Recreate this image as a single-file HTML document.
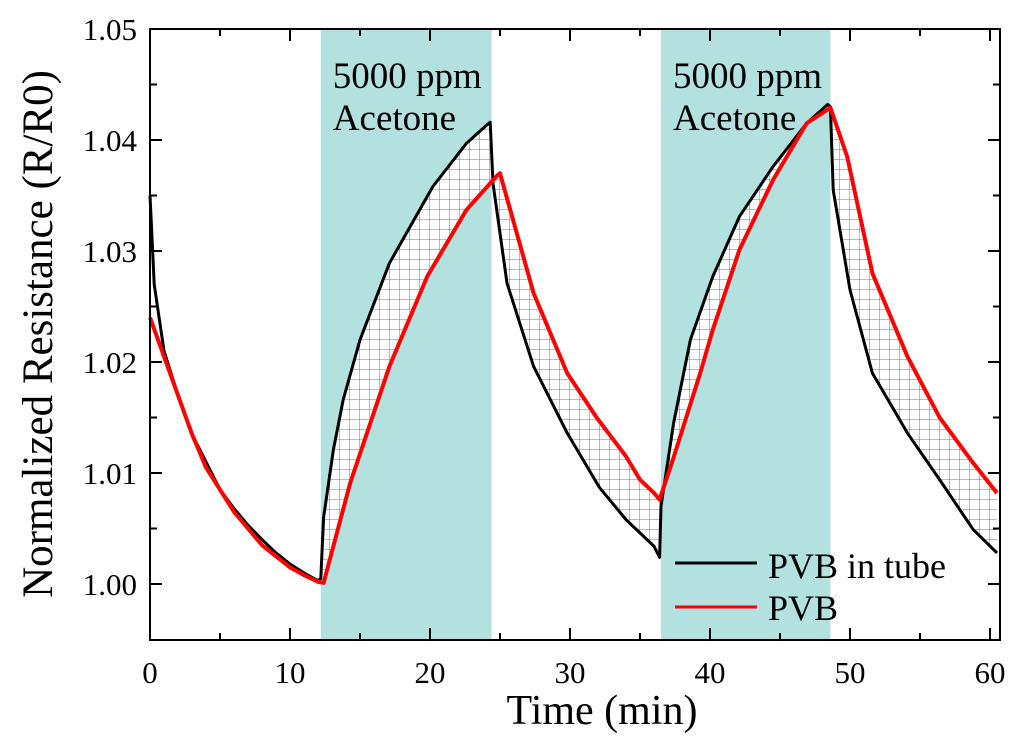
<!DOCTYPE html>
<html><head><meta charset="utf-8"><style>
body{margin:0;background:#fff}
svg text{font-family:"Liberation Serif",serif;fill:#000}
</style></head><body>
<svg id="c" width="1024" height="749" xmlns="http://www.w3.org/2000/svg">
<defs><pattern id="grid" width="10" height="10" patternUnits="userSpaceOnUse"><rect width="10" height="10" fill="#fff"/><path d="M10 0V10M0 10H10" stroke="#777" stroke-width="1" fill="none"/></pattern></defs>
<g id="bands"></g><g id="hatch"></g><g id="lines"></g><g id="axes"></g>
</svg>
<script>
const NS="http://www.w3.org/2000/svg";
const bandStarts=[12.2,36.5];
const bandEnds=[24.4,48.6];
const bandLabel1=["5000 ppm","5000 ppm"];
const bandLabel2=["Acetone","Acetone"];
const tubeT=[0,0.3,1,2,3,4,5,6,7,8,9,10,11,12,12.2,12.4,13.1,13.8,15,17.1,20.2,22.6,24.1,24.3,24.5,25.5,27.4,29.8,32.1,34,36,36.4,36.5,37.4,38.6,40.2,42.1,44.5,46.9,48.4,48.6,48.8,50,51.6,54.1,56.4,58.8,60.5];
const tubeR=[1.035,1.027,1.021,1.017,1.0135,1.011,1.0085,1.0068,1.0053,1.004,1.0028,1.0018,1.001,1.0003,1.0005,1.006,1.0121,1.0166,1.022,1.0289,1.0358,1.0397,1.0414,1.0416,1.0361,1.0271,1.0196,1.0136,1.0087,1.0058,1.0034,1.0024,1.007,1.0145,1.022,1.0277,1.0331,1.0376,1.0415,1.0432,1.043,1.0355,1.0265,1.019,1.0136,1.0094,1.0049,1.0028];
const pvbT=[0,1,2,3,4,5,6,7,8,9,10,11,12,12.4,14.3,17.1,19.8,22.6,24.8,25,26.2,27.4,29.8,31.9,34,35,36,36.4,37.4,39.3,40.2,42.1,44.5,46.9,48.6,49.8,51.6,54.1,56.4,58.8,60.5];
const pvbR=[1.024,1.0205,1.017,1.0135,1.0105,1.0085,1.0065,1.005,1.0035,1.0025,1.0015,1.0008,1.0002,1.0001,1.0091,1.0196,1.0277,1.0337,1.0368,1.037,1.0316,1.0262,1.019,1.015,1.0115,1.0094,1.0082,1.0076,1.0114,1.019,1.0229,1.0301,1.0364,1.0415,1.0429,1.0385,1.028,1.0205,1.015,1.0109,1.0082];
const xTicks=[0,10,20,30,40,50,60];
const yTicks=[1.00,1.01,1.02,1.03,1.04,1.05];
const yTickLabels=["1.00","1.01","1.02","1.03","1.04","1.05"];
const X0=150,X1=1000,Y0=29,Y1=640;
const sx=t=>150+14*t, sy=v=>584-(v-1)*11100;
function mk(tag,attrs,parent,name,text){const e=document.createElementNS(NS,tag);for(const k in attrs)e.setAttribute(k,attrs[k]);


if(text!==undefined)e.textContent=text;document.getElementById(parent).appendChild(e);return e;}
bandStarts.forEach((s,i)=>{
 mk('rect',{x:sx(s),y:Y0,width:sx(bandEnds[i])-sx(s),height:Y1-Y0,fill:'#b3e1e0'},'bands','exposure-band');
 mk('text',{x:sx(s)+12,y:88,'font-size':37},'bands','band-label',bandLabel1[i]);
 mk('text',{x:sx(s)+12,y:130,'font-size':37},'bands','band-label',bandLabel2[i]);
});
const tp=tubeT.map((t,i)=>[t,tubeR[i]]).filter(p=>p[0]>=11), pp=pvbT.map((t,i)=>[t,pvbR[i]]).filter(p=>p[0]>=11);
const hpts=tp.map(p=>sx(p[0])+','+sy(p[1])).concat(pp.reverse().map(p=>sx(p[0])+','+sy(p[1])));
mk('polygon',{points:hpts.join(' '),fill:'url(#grid)'},'hatch','difference-hatch');
mk('polyline',{points:tubeT.map((t,i)=>sx(t)+','+sy(tubeR[i])).join(' '),fill:'none',stroke:'#000','stroke-width':3,'stroke-linejoin':'round'},'lines','series-pvb-in-tube');
mk('polyline',{points:pvbT.map((t,i)=>sx(t)+','+sy(pvbR[i])).join(' '),fill:'none',stroke:'#f00','stroke-width':4,'stroke-linejoin':'round'},'lines','series-pvb');
mk('rect',{x:X0,y:Y0,width:X1-X0,height:Y1-Y0,fill:'none',stroke:'#000','stroke-width':2},'axes','plot-frame');
for(let t=0;t<=60;t+=5){const maj=t%10===0;
 mk('line',{x1:sx(t),x2:sx(t),y1:Y1,y2:Y1-(maj?12:7),stroke:'#000','stroke-width':2},'axes','x-tick');
 mk('line',{x1:sx(t),x2:sx(t),y1:Y0,y2:Y0+(maj?12:7),stroke:'#000','stroke-width':2},'axes','x-tick-top');}
xTicks.forEach(t=>mk('text',{x:sx(t),y:683,'font-size':31,'text-anchor':'middle'},'axes','x-tick-label',String(t)));
for(let k=0;k<=10;k++){const v=1+k*0.005,maj=k%2===0;
 mk('line',{x1:X0,x2:X0+(maj?12:7),y1:sy(v),y2:sy(v),stroke:'#000','stroke-width':2},'axes','y-tick');
 mk('line',{x1:X1,x2:X1-(maj?12:7),y1:sy(v),y2:sy(v),stroke:'#000','stroke-width':2},'axes','y-tick-right');}
yTicks.forEach((v,i)=>mk('text',{x:137,y:sy(v)+11,'font-size':31,'text-anchor':'end'},'axes','y-tick-label',yTickLabels[i]));
mk('text',{x:602,y:724,'font-size':42,'text-anchor':'middle'},'axes','x-axis-title','Time (min)');
mk('text',{x:0,y:0,'font-size':43,'text-anchor':'middle',transform:'translate(52,334) rotate(-90)'},'axes','y-axis-title','Normalized Resistance (R/R0)');
mk('line',{x1:675,x2:757,y1:563,y2:563,stroke:'#000','stroke-width':3},'axes','legend-swatch-pvb-in-tube');
mk('text',{x:768,y:578,'font-size':36},'axes','legend-label-pvb-in-tube','PVB in tube');
mk('line',{x1:675,x2:757,y1:607,y2:607,stroke:'#f00','stroke-width':3},'axes','legend-swatch-pvb');
mk('text',{x:768,y:620,'font-size':36},'axes','legend-label-pvb','PVB');
</script>
</body></html>
